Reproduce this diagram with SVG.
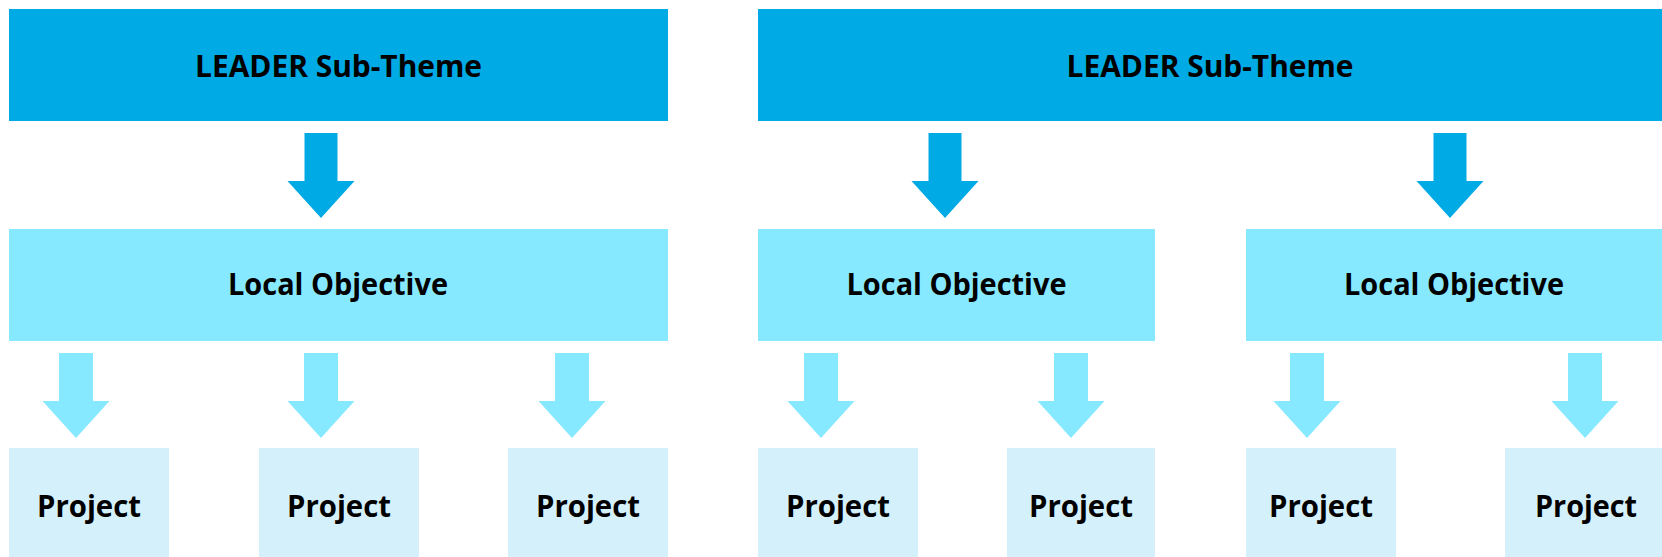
<svg xmlns="http://www.w3.org/2000/svg" xmlns:xlink="http://www.w3.org/1999/xlink" width="1662" height="557" viewBox="0 0 1662 557">
<style>
.theme{fill:#00AAE5}
.obj{fill:#87E9FF}
.proj{fill:#D4F1FB}
.t{font-family:"Open Sans","Noto Sans","Liberation Sans",sans-serif;font-weight:700;font-size:30px;fill:#000;text-anchor:middle}
.da{fill:#00AAE5}
.la{fill:#87E9FF}
</style>
<defs>
<path id="darr" d="M-16.5,133 h33 v48 h17 L0,218 L-33.5,181 h17 z"/>
<path id="larr" d="M-17,353 h34 v48 h16.5 L0,438 L-33.5,401 h16.5 z"/>
</defs>
<rect width="1662" height="557" fill="#fff"/>
<g id="theme1"><rect class="theme" x="9" y="9" width="659" height="112"/><text class="t" x="338.5" y="77" textLength="287" lengthAdjust="spacingAndGlyphs">LEADER Sub-Theme</text></g>
<g id="theme2"><rect class="theme" x="758" y="9" width="904" height="112"/><text class="t" x="1210" y="77" textLength="287" lengthAdjust="spacingAndGlyphs">LEADER Sub-Theme</text></g>
<g id="obj1"><rect class="obj" x="9" y="229" width="659" height="112"/><text class="t" x="338" y="295" textLength="220" lengthAdjust="spacingAndGlyphs">Local Objective</text></g>
<g id="obj2"><rect class="obj" x="758" y="229" width="397" height="112"/><text class="t" x="956.5" y="295" textLength="220" lengthAdjust="spacingAndGlyphs">Local Objective</text></g>
<g id="obj3"><rect class="obj" x="1246" y="229" width="416" height="112"/><text class="t" x="1454" y="295" textLength="220" lengthAdjust="spacingAndGlyphs">Local Objective</text></g>
<g id="proj1"><rect class="proj" x="9" y="448" width="160" height="109"/><text class="t" x="89" y="517" textLength="104" lengthAdjust="spacingAndGlyphs">Project</text></g>
<g id="proj2"><rect class="proj" x="259" y="448" width="160" height="109"/><text class="t" x="339" y="517" textLength="104" lengthAdjust="spacingAndGlyphs">Project</text></g>
<g id="proj3"><rect class="proj" x="508" y="448" width="160" height="109"/><text class="t" x="588" y="517" textLength="104" lengthAdjust="spacingAndGlyphs">Project</text></g>
<g id="proj4"><rect class="proj" x="758" y="448" width="160" height="109"/><text class="t" x="838" y="517" textLength="104" lengthAdjust="spacingAndGlyphs">Project</text></g>
<g id="proj5"><rect class="proj" x="1007" y="448" width="148" height="109"/><text class="t" x="1081" y="517" textLength="104" lengthAdjust="spacingAndGlyphs">Project</text></g>
<g id="proj6"><rect class="proj" x="1246" y="448" width="150" height="109"/><text class="t" x="1321" y="517" textLength="104" lengthAdjust="spacingAndGlyphs">Project</text></g>
<g id="proj7"><rect class="proj" x="1505" y="448" width="157" height="109"/><text class="t" x="1586" y="517" textLength="102" lengthAdjust="spacingAndGlyphs">Project</text></g>
<g id="connectors">
<use xlink:href="#darr" href="#darr" class="da" transform="translate(321,0)"/>
<use xlink:href="#darr" href="#darr" class="da" transform="translate(945,0)"/>
<use xlink:href="#darr" href="#darr" class="da" transform="translate(1450,0)"/>
<use xlink:href="#larr" href="#larr" class="la" transform="translate(76,0)"/>
<use xlink:href="#larr" href="#larr" class="la" transform="translate(321,0)"/>
<use xlink:href="#larr" href="#larr" class="la" transform="translate(572,0)"/>
<use xlink:href="#larr" href="#larr" class="la" transform="translate(821,0)"/>
<use xlink:href="#larr" href="#larr" class="la" transform="translate(1071,0)"/>
<use xlink:href="#larr" href="#larr" class="la" transform="translate(1307,0)"/>
<use xlink:href="#larr" href="#larr" class="la" transform="translate(1585,0)"/>
</g>
</svg>
